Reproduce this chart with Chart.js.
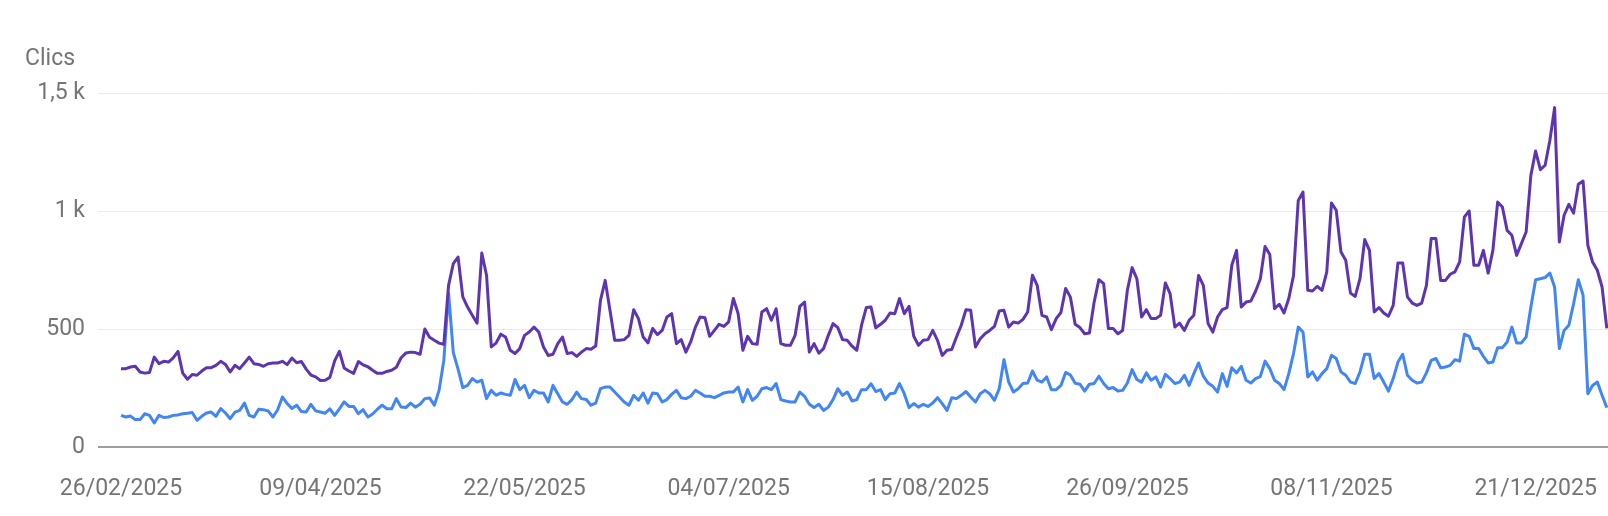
<!DOCTYPE html>
<html lang="es">
<head>
<meta charset="utf-8">
<title>Clics</title>
<script src="https://cdn.jsdelivr.net/npm/chart.js@4.4.1/dist/chart.umd.min.js"></script>
<style>
  html, body { margin: 0; padding: 0; background: #fff; }
  canvas { display: block; }
</style>
</head>
<body>
<canvas id="grafico" width="1608" height="516"></canvas>
<script>
// Clics diarios desde el 26/02/2025 (valores leídos a ojo del gráfico)
const inicio = new Date(2025, 1, 26);

const clicsMorado = [
  332, 332, 339, 342, 318, 313, 316, 381, 353, 363,
  360, 378, 405, 313, 287, 307, 304, 322, 336, 336,
  346, 363, 350, 318, 346, 332, 356, 381, 353, 350,
  342, 353, 356, 356, 363, 349, 377, 357, 362, 330,
  305, 297, 282, 283, 295, 365, 405, 335, 322, 312,
  362, 348, 340, 325, 312, 312, 320, 325, 338, 378,
  398, 402, 400, 393, 500, 465, 452, 440, 435, 685,
  777, 805, 636, 593, 558, 525, 822, 728, 424, 440,
  478, 466, 410, 396, 417, 473, 487, 508, 487, 424,
  388, 393, 438, 466, 396, 400, 384, 402, 417, 414,
  428, 621, 706, 579, 452, 452, 455, 473, 582, 544,
  466, 441, 502, 476, 494, 551, 565, 438, 455, 402,
  445, 508, 551, 548, 469, 494, 520, 511, 530, 629,
  565, 410, 469, 438, 435, 572, 586, 537, 586, 438,
  431, 431, 473, 596, 614, 402, 438, 398, 417, 473,
  523, 506, 455, 452, 427, 410, 516, 591, 593, 505,
  520, 537, 568, 565, 629, 565, 596, 469, 431, 452,
  455, 494, 452, 388, 410, 413, 466, 516, 582, 579,
  424, 459, 480, 494, 511, 576, 579, 508, 530, 525,
  541, 572, 728, 685, 558, 551, 497, 544, 570, 672,
  635, 520, 506, 480, 483, 614, 709, 692, 502, 502,
  480, 494, 664, 760, 713, 551, 582, 544, 544, 558,
  695, 650, 508, 525, 494, 537, 558, 727, 685, 523,
  487, 551, 582, 591, 770, 833, 593, 614, 618, 660,
  712, 850, 816, 586, 605, 568, 629, 727, 1045, 1080,
  664, 661, 681, 664, 741, 1034, 1003, 826, 791, 652,
  638, 713, 879, 833, 572, 591, 568, 554, 600, 780,
  780, 636, 610, 600, 610, 685, 883, 883, 706, 706,
  732, 742, 784, 975, 1000, 770, 770, 833, 737, 833,
  1038, 1017, 918, 897, 812, 862, 911, 1151, 1254, 1175,
  1194, 1299, 1438, 869, 982, 1028, 991, 1113, 1127, 855,
  784, 749, 678, 503
];

const clicsAzul = [
  134, 127, 131, 116, 116, 141, 134, 102, 134, 125,
  127, 134, 136, 141, 143, 146, 113, 130, 144, 148,
  130, 163, 144, 120, 148, 155, 186, 134, 127, 160,
  158, 153, 127, 158, 212, 184, 163, 177, 150, 148,
  181, 153, 148, 143, 162, 134, 162, 191, 172, 172,
  141, 158, 127, 140, 160, 177, 162, 162, 205, 169,
  167, 186, 169, 181, 205, 208, 177, 240, 367, 653,
  400, 330, 252, 261, 290, 275, 283, 205, 240, 219,
  229, 223, 219, 286, 243, 261, 209, 240, 229, 229,
  191, 261, 226, 191, 181, 201, 233, 205, 201, 177,
  186, 247, 254, 254, 233, 212, 191, 177, 219, 198,
  229, 186, 229, 226, 191, 201, 223, 240, 209, 205,
  215, 240, 229, 215, 215, 209, 219, 229, 233, 233,
  254, 191, 243, 198, 215, 247, 252, 243, 269, 201,
  195, 191, 191, 233, 215, 181, 167, 181, 155, 169,
  201, 247, 219, 233, 195, 201, 243, 243, 268, 235,
  243, 201, 226, 229, 269, 226, 167, 184, 169, 181,
  172, 186, 209, 184, 155, 209, 205, 219, 235, 212,
  191, 226, 240, 226, 198, 247, 370, 275, 233, 247,
  269, 271, 322, 283, 275, 297, 243, 243, 261, 316,
  305, 270, 266, 237, 266, 269, 300, 269, 247, 252,
  237, 240, 271, 328, 286, 275, 314, 283, 297, 254,
  308, 290, 269, 275, 304, 261, 311, 356, 300, 271,
  257, 233, 311, 257, 336, 314, 342, 283, 271, 290,
  298, 364, 332, 283, 269, 243, 311, 396, 508, 487,
  297, 318, 283, 311, 332, 389, 375, 318, 304, 275,
  269, 318, 393, 393, 290, 311, 275, 237, 290, 360,
  393, 304, 283, 271, 275, 314, 367, 375, 336, 339,
  346, 370, 364, 478, 469, 417, 417, 384, 356, 360,
  421, 421, 445, 508, 441, 441, 466, 593, 709, 713,
  718, 737, 678, 417, 494, 516, 607, 709, 643, 226,
  261, 275, 219, 167
];

const etiquetasX = ['26/02/2025', '09/04/2025', '22/05/2025', '04/07/2025',
  '15/08/2025', '26/09/2025', '08/11/2025', '21/12/2025'];
const ticksY = [0, 500, 1000, 1500];

// una fecha por punto
const fechas = clicsMorado.map(function (_, i) {
  const d = new Date(inicio.getFullYear(), inicio.getMonth(), inicio.getDate() + i);
  return String(d.getDate()).padStart(2, '0') + '/' +
    String(d.getMonth() + 1).padStart(2, '0') + '/' + d.getFullYear();
});
const posEtiquetas = etiquetasX.map(f => fechas.indexOf(f));

const gris = '#757575';
const fuente = { family: 'Roboto', size: 23 };

function formatoY(v) {
  if (v >= 1000) return String(v / 1000).replace('.', ',') + ' k';
  return String(v);
}

// "Clics" arriba a la izquierda
const tituloEje = {
  id: 'tituloEje',
  afterDraw(chart) {
    const ctx = chart.ctx;
    ctx.save();
    ctx.font = '23px Roboto';
    ctx.fillStyle = gris;
    ctx.textAlign = 'left';
    ctx.textBaseline = 'middle';
    ctx.fillText('Clics', 25, 59);
    ctx.restore();
  }
};

new Chart(document.getElementById('grafico'), {
  type: 'line',
  data: {
    datasets: [
      {
        label: 'Clics',
        data: clicsMorado.map((v, i) => ({ x: i, y: v })),
        borderColor: '#5e35b1',
        borderWidth: 3,
        pointRadius: 0,
        tension: 0,
        borderJoinStyle: 'round'
      },
      {
        label: 'Clics (comparación)',
        data: clicsAzul.map((v, i) => ({ x: i, y: v })),
        borderColor: '#4285f4',
        borderWidth: 3,
        pointRadius: 0,
        tension: 0,
        borderJoinStyle: 'round'
      }
    ]
  },
  options: {
    responsive: false,
    animation: false,
    layout: { padding: { top: 93, left: 25, right: 0, bottom: 0 } },
    plugins: {
      legend: { display: false },
      tooltip: { enabled: false }
    },
    scales: {
      x: {
        type: 'linear',
        min: -4.85,
        max: 313.25,
        grid: { display: false },
        border: { display: false },
        afterBuildTicks(s) { s.ticks = posEtiquetas.map(v => ({ value: v })); },
        ticks: {
          autoSkip: false,
          maxRotation: 0,
          padding: 20,
          color: gris,
          font: fuente,
          callback: v => fechas[v]
        },
        afterFit(s) {
          s.height = 69;
          s.paddingLeft = 0;
          s.paddingRight = 0;
        }
      },
      y: {
        min: 0,
        max: 1500,
        afterBuildTicks(s) { s.ticks = ticksY.map(v => ({ value: v })); },
        grid: {
          color: c => c.tick.value === 0 ? '#9e9e9e' : '#ebebeb',
          lineWidth: c => c.tick.value === 0 ? 2 : 1,
          drawTicks: false
        },
        border: { display: false },
        ticks: { padding: 13, color: gris, font: fuente, callback: formatoY },
        afterFit(s) { s.width = 73; }
      }
    }
  },
  plugins: [tituloEje]
});
</script>
</body>
</html>
